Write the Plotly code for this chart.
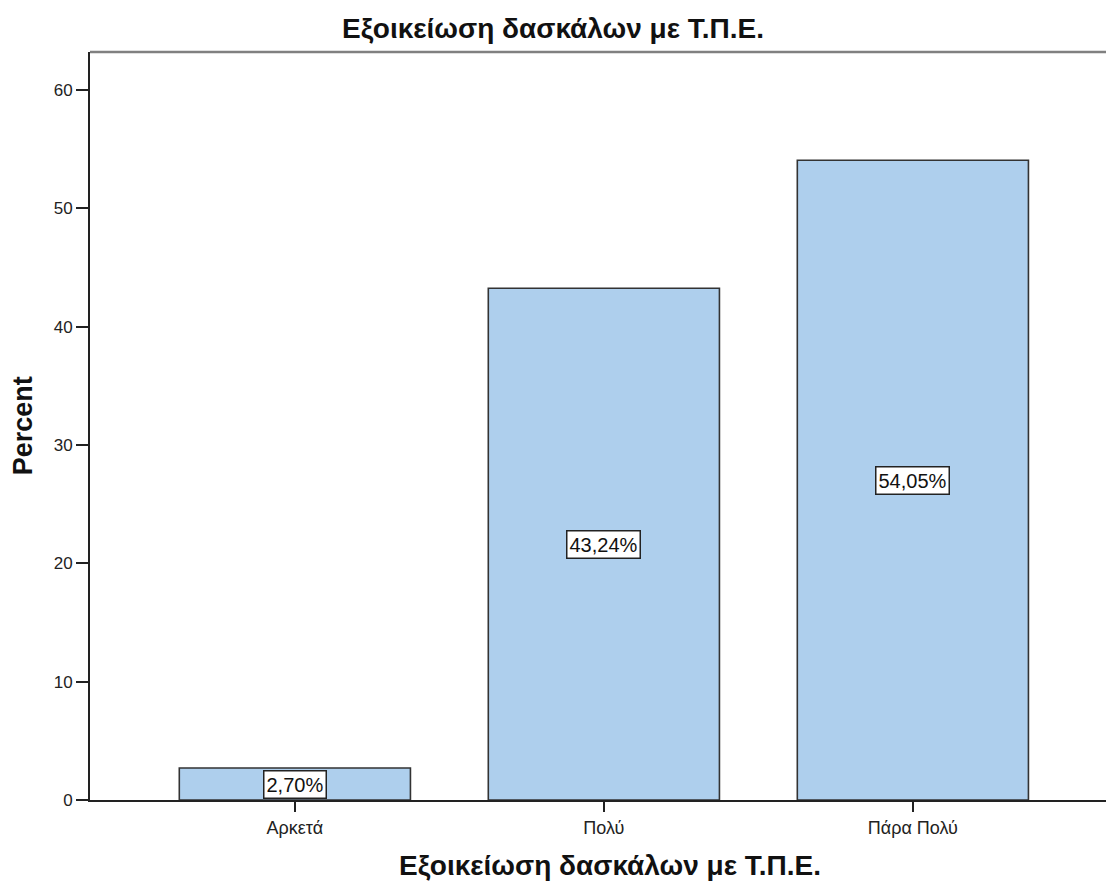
import plotly.graph_objects as go

# Familiarity of teachers with ICT (percent of respondents)
categories = ["Αρκετά", "Πολύ", "Πάρα Πολύ"]
percents = [2.70, 43.24, 54.05]
y_ticks = [0, 10, 20, 30, 40, 50, 60]

title_text = "Εξοικείωση δασκάλων με Τ.Π.Ε."
y_title = "Percent"
font_family = "Liberation Sans, Arial, sans-serif"

fig = go.Figure()
fig.add_trace(go.Bar(
    x=list(range(len(categories))),
    y=percents,
    width=0.748,
    marker=dict(color="#AECFED", line=dict(color="#333333", width=1.6)),
    hoverinfo="skip",
))

# Value labels in white boxes at mid-height of each bar
for i, v in enumerate(percents):
    fig.add_annotation(
        x=i, y=v / 2, xref="x", yref="y",
        text=f"{v:.2f}%".replace(".", ","),
        showarrow=False,
        font=dict(family=font_family, size=20, color="#111111"),
        bgcolor="white", bordercolor="#222222", borderwidth=1.5, borderpad=2,
    )

# Axis titles
fig.add_annotation(
    text=title_text, xref="paper", yref="paper", x=0.512, y=-0.087,
    xanchor="center", yanchor="middle", showarrow=False,
    font=dict(family=font_family, size=28, color="#111111", weight="bold"),
)
fig.add_annotation(
    text=y_title, xref="paper", yref="paper", x=-0.066, y=0.501,
    xanchor="center", yanchor="middle", textangle=-90, showarrow=False,
    font=dict(family=font_family, size=27, color="#111111", weight="bold"),
)

# Gray frame line across the top of the plot area
fig.add_shape(type="line", xref="paper", yref="paper", x0=0, x1=1, y0=1, y1=1,
              line=dict(color="#808080", width=2.5))

fig.update_layout(
    width=1106, height=883,
    margin=dict(l=90, r=0, t=52, b=83),
    paper_bgcolor="white", plot_bgcolor="white",
    showlegend=False,
    title=dict(text=title_text, x=0.5, xref="container", xanchor="center",
               y=0.968, yref="container", yanchor="middle",
               font=dict(family=font_family, size=28, color="#111111", weight="bold")),
    font=dict(family=font_family, color="#222222"),
    xaxis=dict(
        range=[-0.663, 2.625],
        tickmode="array", tickvals=list(range(len(categories))), ticktext=categories,
        ticks="outside", ticklen=10, tickwidth=2, tickcolor="#222222",
        tickfont=dict(size=18, color="#222222"),
        showline=True, linecolor="#222222", linewidth=2,
        showgrid=False, zeroline=False,
    ),
    yaxis=dict(
        range=[0, 63.2],
        tickmode="array", tickvals=y_ticks,
        ticks="outside", ticklen=12, tickwidth=2, tickcolor="#222222",
        tickfont=dict(size=17, color="#222222"),
        showline=True, linecolor="#222222", linewidth=2,
        showgrid=False, zeroline=False,
    ),
)

fig.write_html("out.html")
